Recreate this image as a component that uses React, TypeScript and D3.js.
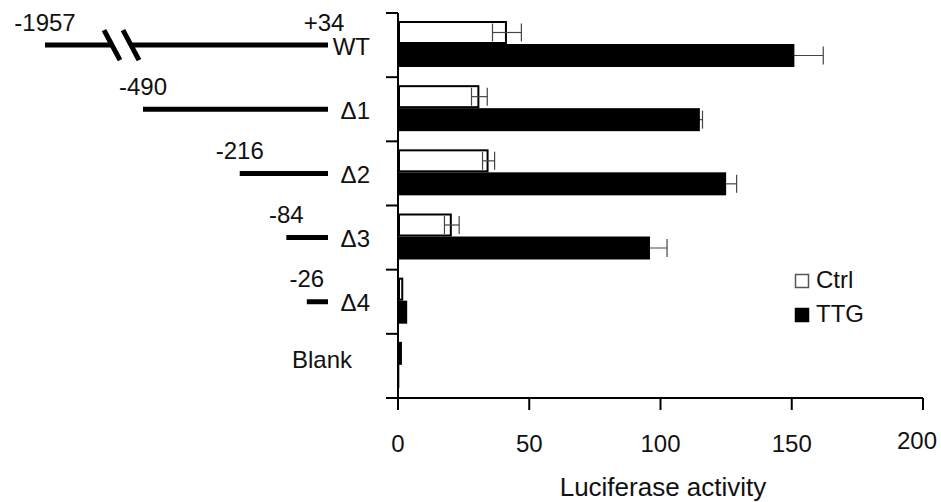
import * as d3 from 'd3';

// Constructs (rows, top to bottom)
const categories = ['WT', 'Δ1', 'Δ2', 'Δ3', 'Δ4', 'Blank'];
// 5' end of each promoter fragment (bp); Blank has none
const promoterStart: (number | null)[] = [-1957, -490, -216, -84, -26, null];
const promoterEnd = 34;

const series = ['Ctrl', 'TTG'];
const ctrlMean = [41.5, 31, 34.5, 20.5, 2, 1.5];
const ctrlErr = [5.5, 3, 2.3, 2.8, 0, 0];
const ttgMean = [151, 115, 125, 96, 3.5, 0.5];
const ttgErr = [11, 1, 4, 6.5, 0, 0];

const xTicks = [0, 50, 100, 150, 200];

const W = 941;
const H = 502;
const FONT = '"Liberation Sans", Arial, Helvetica, sans-serif';

export default function App() {
  const x = d3.scaleLinear().domain([0, 200]).range([398, 923]);
  const y = d3.scaleBand<string>().domain(categories).range([13, 398]);
  const ySub = d3.scaleBand<string>().domain(series).range([8, 54]);

  // schematic promoter scale (the -1957 end is drawn across a break)
  const p = d3.scaleLinear().domain([-490, promoterEnd]).range([143, 328]);
  const breakLeft = 45;
  const breakA = 112;
  const breakB = 131;

  const boundaries = [...categories.map((c) => y(c)!), y.range()[1]];
  const values = [ctrlMean, ttgMean];
  const errs = [ctrlErr, ttgErr];

  const textStyle = { fontFamily: FONT, fontSize: 24, fill: '#111' };

  return (
    <svg width={W} height={H} style={{ position: 'absolute', left: 0, top: 0, background: '#fff' }}>
      {/* promoter constructs */}
      {categories.map((c, i) => {
        const cy = y(c)! + y.bandwidth() / 2;
        const start = promoterStart[i];
        if (start === null) {
          return (
            <text key={c} x={322} y={cy - 6} textAnchor="middle" dominantBaseline="central" style={textStyle}>
              {c}
            </text>
          );
        }
        const broken = start < -490;
        const x0 = broken ? breakLeft : p(start);
        const x1 = p(promoterEnd);
        return (
          <g key={c}>
            {broken ? (
              <>
                <line x1={x0} x2={breakA} y1={cy} y2={cy} stroke="#000" strokeWidth={5} />
                <line x1={breakB} x2={x1} y1={cy} y2={cy} stroke="#000" strokeWidth={5} />
                {[breakA, breakB].map((bx) => (
                  <line key={bx} x1={bx - 8} y1={cy - 15} x2={bx + 8} y2={cy + 15} stroke="#000" strokeWidth={5} />
                ))}
                <text x={324} y={cy - 23} textAnchor="middle" dominantBaseline="central" style={textStyle}>
                  +{promoterEnd}
                </text>
              </>
            ) : (
              <line x1={x0} x2={x1} y1={cy} y2={cy} stroke="#000" strokeWidth={5} />
            )}
            <text x={x0} y={cy - 23} textAnchor="middle" dominantBaseline="central" style={textStyle}>
              {start}
            </text>
            <text x={370} y={cy + 1} textAnchor="end" dominantBaseline="central" style={textStyle}>
              {c}
            </text>
          </g>
        );
      })}

      {/* bars */}
      {series.map((s, si) =>
        categories.map((c, i) => {
          const by = y(c)! + ySub(s)!;
          const bh = ySub.bandwidth();
          const v = values[si][i];
          const e = errs[si][i];
          const cx = x(v);
          const cy = by + bh / 2;
          const err = e > 0 && (
            <g stroke="#444" strokeWidth={1.2}>
              <line x1={x(v - e)} x2={x(v + e)} y1={cy} y2={cy} />
              <line x1={x(v - e)} x2={x(v - e)} y1={cy - 9} y2={cy + 9} />
              <line x1={x(v + e)} x2={x(v + e)} y1={cy - 9} y2={cy + 9} />
            </g>
          );
          return si === 0 ? (
            <g key={s + c}>
              <rect x={x(0) + 1} y={by + 1} width={Math.max(cx - x(0) - 2, 1)} height={bh - 2} fill="#fff" stroke="#000" strokeWidth={2} />
              {err}
            </g>
          ) : (
            <g key={s + c}>
              {err}
              <rect x={x(0)} y={by} width={cx - x(0)} height={bh} fill="#000" />
            </g>
          );
        })
      )}

      {/* y axis */}
      <line x1={398} x2={398} y1={y.range()[0]} y2={y.range()[1] + 12} stroke="#000" strokeWidth={2} />
      {boundaries.map((b) => (
        <line key={b} x1={386} x2={398} y1={b} y2={b} stroke="#000" strokeWidth={2} />
      ))}

      {/* x axis */}
      <line x1={386} x2={x(200)} y1={398} y2={398} stroke="#000" strokeWidth={2} />
      {xTicks.map((t, i) => {
        const last = i === xTicks.length - 1;
        return (
          <g key={t}>
            <line x1={x(t)} x2={x(t)} y1={398} y2={410} stroke="#000" strokeWidth={2} />
            <text
              x={last ? W - 4 : x(t)}
              y={last ? 440 : 443}
              textAnchor={last ? 'end' : 'middle'}
              dominantBaseline="central"
              style={textStyle}
            >
              {t}
            </text>
          </g>
        );
      })}
      <text x={663} y={487} textAnchor="middle" dominantBaseline="central" style={{ ...textStyle, fontSize: 26 }}>
        Luciferase activity
      </text>

      {/* legend */}
      {series.map((s, si) => (
        <g key={s} transform={`translate(795, ${274 + si * 34})`}>
          <rect x={0.5} y={0.5} width={13} height={13} fill={si === 0 ? '#fff' : '#000'} stroke={si === 0 ? '#555' : '#000'} strokeWidth={1.5} />
          <text x={21} y={5} dominantBaseline="central" style={textStyle}>
            {s}
          </text>
        </g>
      ))}
    </svg>
  );
}
